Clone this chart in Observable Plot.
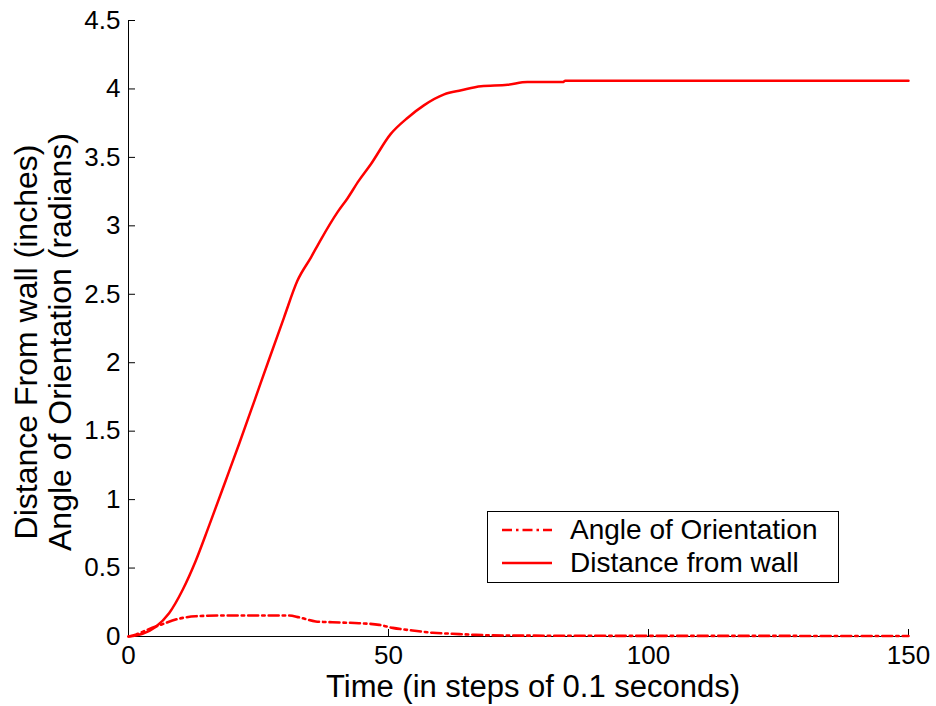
<!DOCTYPE html>
<html>
<head>
<meta charset="utf-8">
<script src="https://cdn.jsdelivr.net/npm/d3@7"></script>
<script src="https://cdn.jsdelivr.net/npm/@observablehq/plot@0.6"></script>
<style>
  body { margin: 0; background: #fff; }
  #wrap { position: relative; width: 936px; height: 706px; font-family: "Liberation Sans", Arial, sans-serif; }
  #legend { position: absolute; left: 487px; top: 511px; width: 350px; height: 70px; border: 1.5px solid #000; background: #fff; box-sizing: content-box; }
  #legend .row { position: absolute; left: 0; height: 30px; display: flex; align-items: center; font-size: 28px; color: #000; }
  #legend svg { position: absolute; left: 14px; }
  #legend span { position: absolute; left: 82px; white-space: nowrap; }
</style>
</head>
<body>
<div id="wrap"></div>
<script>
// Data
const angleTime = [0, 1.5, 3.3, 6.5, 9.7, 12.9, 17.4, 30.9, 32.8, 36, 39.2, 44.3, 48.2, 50.8, 54.6, 58.5, 62.3, 66.8, 73, 90, 150];
const angleValue = [0, 0.015, 0.044, 0.09, 0.13, 0.148, 0.153, 0.153, 0.14, 0.11, 0.104, 0.097, 0.085, 0.063, 0.044, 0.027, 0.02, 0.012, 0.007, 0.005, 0.004];
const distTime = [0, 2.7, 5.2, 7.8, 10.4, 12.9, 15.5, 18.7, 21.3, 24.2, 26.8, 29.9, 32.5, 35.1, 37, 40.2, 42.1, 44.3, 46.6, 50.4, 53.7, 56.8, 60.7, 64, 67.8, 72.9, 76.7, 83.5, 84, 150];
const distValue = [0, 0.02, 0.07, 0.17, 0.34, 0.55, 0.81, 1.14, 1.41, 1.72, 2.0, 2.33, 2.6, 2.77, 2.9, 3.1, 3.2, 3.33, 3.45, 3.67, 3.79, 3.88, 3.96, 3.99, 4.02, 4.03, 4.05, 4.05, 4.06, 4.06];
const xTicks = [0, 50, 100, 150];
const yTicks = [0, 0.5, 1, 1.5, 2, 2.5, 3, 3.5, 4, 4.5];
const xLabel = "Time (in steps of 0.1 seconds)";
const yLabel1 = "Distance From wall (inches)";
const yLabel2 = "Angle of Orientation (radians)";
const seriesNames = ["Angle of Orientation", "Distance from wall"];

const angle = angleTime.map((t, i) => ({t, v: angleValue[i]}));
const dist = distTime.map((t, i) => ({t, v: distValue[i]}));

const dashPattern = "10,4,2.5,4";

const chart = Plot.plot({
  width: 936,
  height: 706,
  marginLeft: 128,
  marginRight: 28,
  marginTop: 20,
  marginBottom: 70,
  style: {fontFamily: '"Liberation Sans", Arial, sans-serif', fontSize: "26px", background: "#fff", color: "#000"},
  x: {domain: [0, 150], ticks: xTicks, label: null},
  y: {domain: [0, 4.5], ticks: yTicks, label: null},
  marks: [
    Plot.axisX({ticks: xTicks, tickSize: -7, tickPadding: 16, fontSize: 26, label: null, tickFormat: d => String(d)}),
    Plot.axisY({ticks: yTicks, tickSize: -7, tickPadding: 15, fontSize: 26, label: null, tickFormat: d => String(d)}),
    Plot.ruleX([0], {stroke: "#000", strokeWidth: 1}),
    Plot.ruleY([0], {stroke: "#000", strokeWidth: 1}),
    Plot.line(angle, {x: "t", y: "v", stroke: "#ff0000", strokeWidth: 2.6, strokeDasharray: dashPattern, curve: "monotone-x"}),
    Plot.line(dist, {x: "t", y: "v", stroke: "#ff0000", strokeWidth: 2.5, curve: "monotone-x"})
  ]
});

const svg = d3.select(chart);
svg.append("text")
  .attr("x", 533).attr("y", 697)
  .attr("text-anchor", "middle")
  .attr("font-size", 31)
  .attr("fill", "#000")
  .text(xLabel);
const yl = svg.append("g").attr("transform", "translate(0,342) rotate(-90)");
yl.append("text").attr("x", 0).attr("y", 37).attr("text-anchor", "middle").attr("font-size", 32).attr("fill", "#000").text(yLabel1);
yl.append("text").attr("x", 0).attr("y", 71).attr("text-anchor", "middle").attr("font-size", 32).attr("fill", "#000").text(yLabel2);

const wrap = document.getElementById("wrap");
wrap.appendChild(chart);

// Legend
const legend = document.createElement("div");
legend.id = "legend";
const dashes = [dashPattern, null];
seriesNames.forEach((name, i) => {
  const row = document.createElement("div");
  row.className = "row";
  row.style.top = (3 + i * 33) + "px";
  row.style.width = "100%";
  const ls = d3.create("svg").attr("width", 52).attr("height", 30);
  ls.append("line").attr("x1", 0).attr("x2", 50).attr("y1", 15).attr("y2", 15)
    .attr("stroke", "#ff0000").attr("stroke-width", i === 0 ? 2.6 : 2.5)
    .attr("stroke-dasharray", dashes[i]);
  row.appendChild(ls.node());
  const sp = document.createElement("span");
  sp.textContent = name;
  row.appendChild(sp);
  legend.appendChild(row);
});
wrap.appendChild(legend);
</script>
</body>
</html>
